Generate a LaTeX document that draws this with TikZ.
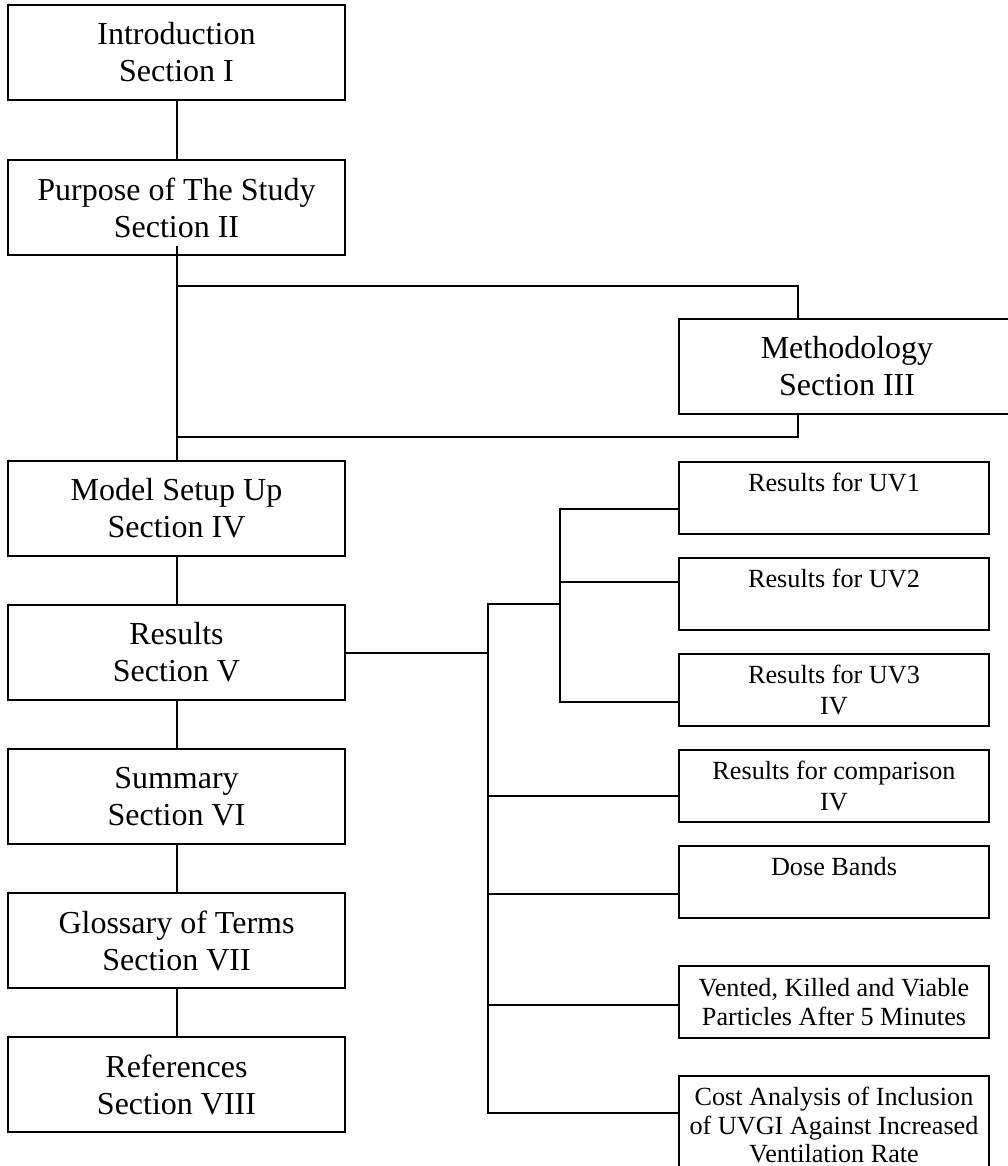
\documentclass[tikz,border=0pt]{standalone}
\usepackage{fontspec}
\setmainfont{Liberation Serif}
\tikzset{
  sect/.style={draw, line width=1pt, minimum width=168.5pt, minimum height=47.5pt,
    inner sep=0pt, align=center, font=\fontsize{16}{18.5}\selectfont},
  sub/.style={draw, line width=1pt, minimum width=155pt, minimum height=36pt,
    inner sep=0pt, align=center, font=\fontsize{13.1}{15.9}\selectfont},
  subtight/.style={sub, font=\fontsize{13.1}{14.1}\selectfont}
}

\begin{document}
\begin{tikzpicture}[x=0.5pt,y=-0.5pt,line width=1pt]
      \useasboundingbox (0,0) rectangle (1007,1166);
      % main sections
      \node[sect] (intro) at (176.5,52.5) {Introduction\\Section I};
      \node[sect] (purpose) at (176.5,207.5) {Purpose of The Study\\Section II};
      \node[sect] (method) at (847,366) {Methodology\\Section III};
      \node[sect] (model) at (176.5,508.5) {Model Setup Up\\Section IV};
      \node[sect] (results) at (176.5,652.5) {Results\\Section V};
      \node[sect] (summary) at (176.5,796.5) {Summary\\Section VI};
      \node[sect] (glossary) at (176.5,940.5) {Glossary of Terms\\Section VII};
      \node[sect] (refs) at (176.5,1084.5) {References\\Section VIII};
      % results parts
      \node[sub] (uv1) at (834,498) {Results for UV1\\~};
      \node[sub] (uv2) at (834,594) {Results for UV2\\~};
      \node[sub] (uv3) at (834,690) {Results for UV3\\IV};
      \node[sub] (comp) at (834,786) {Results for comparison\\IV};
      \node[sub] (dose) at (834,882) {Dose Bands\\~};
      \node[subtight] (vented) at (834,1002) {Vented, Killed and Viable\\Particles After 5 Minutes};
      \node[subtight, minimum height=49pt] (cost) at (834,1125) {Cost Analysis of Inclusion\\of UVGI Against Increased\\Ventilation Rate};

      \coordinate (mtop) at (798,286);
      \coordinate (mbot) at (798,437);
      \coordinate (in1) at (560,509);
      \coordinate (in2) at (560,582);
      \coordinate (in3) at (560,702);
      \coordinate (out0) at (488,604);
      \coordinate (out1) at (488,796);
      \coordinate (out2) at (488,894);
      \coordinate (out3) at (488,1005);
      \coordinate (out4) at (488,1113);

      \draw (intro) -- (purpose);
      \draw ([yshift=5pt]purpose.south) -- (model);
      \draw (purpose.south |- mtop) -- (mtop) -- (mtop |- method.north);
      \draw (mbot |- method.south) -- (mbot) -- (purpose.south |- mbot);
      \draw (model) -- (results);
      \draw (results) -- (summary);
      \draw (summary) -- (glossary);
      \draw (glossary) -- (refs);

      \draw (results.east) -- (results.east -| out0);
      \draw (out0 -| in1) -- (out0) -- (out4) -- (out4 -| cost.west);
      \draw (in1 -| uv1.west) -- (in1) -- (in3) -- (in3 -| uv3.west);
      \foreach \c/\n in {in2/uv2,out1/comp,out2/dose,out3/vented}
        \draw (\c) -- (\c -| \n.west);
\end{tikzpicture}
\end{document}
